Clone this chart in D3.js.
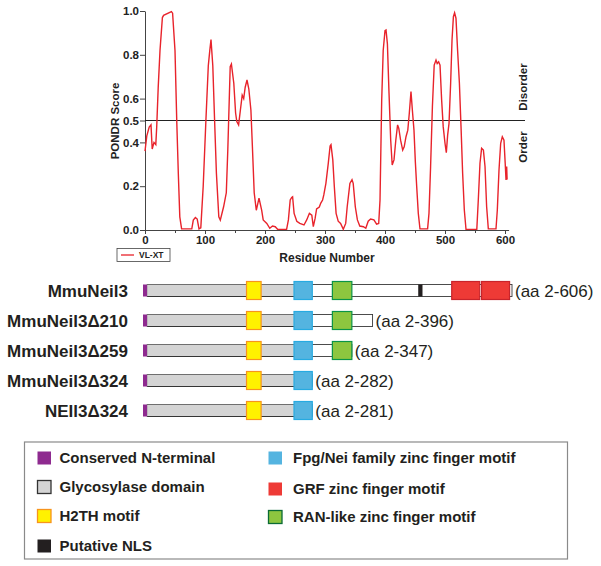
<!DOCTYPE html>
<html>
<head>
<meta charset="utf-8">
<script src="https://cdn.jsdelivr.net/npm/d3@7"></script>
<style>
  body { margin: 0; background: #fff; }
  svg { font-family: "Liberation Sans", Arial, sans-serif; }
</style>
</head>
<body>
<svg id="chart"></svg>
<script>
/* PONDR VL-XT curve */
const residues = [0, 3, 7, 10, 12, 15, 18, 19.5, 22, 25, 29, 31, 44, 46, 50, 53, 55.5, 58, 61, 78,
  80.5, 84, 87, 90, 93, 97, 101.5, 105.5, 108, 110, 113, 116, 119, 123, 125.5, 131, 135.5, 138, 142, 144,
  148, 151, 153, 156, 159, 162, 164.5, 167, 170, 173, 176.5, 179, 182, 185.5, 190, 194.5, 197, 203, 208, 212.5,
  217, 221, 236, 239, 242, 244.5, 246, 248.5, 253, 258, 265, 269.5, 274, 278, 280.5, 283.5, 286, 290.5, 293, 296,
  298, 301.5, 305.5, 308.5, 310, 313, 315.5, 318.5, 322, 326, 330.5, 334.5, 337, 341.5, 345, 347, 350.5, 354, 358, 364,
  368, 372, 376, 381.5, 386, 389.5, 391.7, 394.5, 397, 400, 401.7, 404, 406.7, 409.5, 412, 415, 418, 421, 423, 426,
  429.5, 432, 435, 438, 440.5, 443.3, 445.6, 448.3, 450.6, 452.8, 455.5, 458.3, 471, 473.3, 476, 479, 482, 485, 487, 489.4,
  491.7, 494.4, 497, 500, 502.2, 504.4, 506.7, 509.4, 511.7, 514, 516, 518.3, 521, 524, 526.7, 529.4, 532.2, 535, 553, 555.5,
  558.3, 561, 564, 566.7, 569.4, 572.2, 585, 587.2, 590, 592.8, 595.5, 598.3, 600.6, 601.7, 602.8, 603.5];
const scores = [0.36, 0.43, 0.47, 0.48, 0.37, 0.40, 0.39, 0.47, 0.65, 0.82, 0.97, 0.98, 0.997, 0.99, 0.82, 0.49, 0.26, 0.06, 0.005, 0.005,
  0.045, 0.057, 0.05, 0.005, 0.01, 0.2, 0.5, 0.75, 0.82, 0.87, 0.75, 0.5, 0.26, 0.06, 0.045, 0.106, 0.17, 0.365, 0.746, 0.758,
  0.67, 0.534, 0.495, 0.48, 0.548, 0.616, 0.60, 0.652, 0.685, 0.645, 0.548, 0.38, 0.17, 0.09, 0.146, 0.09, 0.046, 0.03, 0.008, 0.018,
  0.015, 0.003, 0.003, 0.046, 0.137, 0.149, 0.152, 0.076, 0.04, 0.03, 0.023, 0.046, 0.076, 0.068, 0.015, 0.053, 0.096, 0.105, 0.123, 0.137,
  0.16, 0.213, 0.305, 0.384, 0.39, 0.32, 0.2, 0.076, 0.04, 0.03, 0.003, 0.03, 0.106, 0.213, 0.23, 0.213, 0.106, 0.046, 0.018, 0.015,
  0.008, 0.04, 0.05, 0.046, 0.027, 0.03, 0.137, 0.594, 0.82, 0.91, 0.913, 0.85, 0.625, 0.41, 0.297, 0.32, 0.41, 0.48, 0.464, 0.41,
  0.365, 0.38, 0.426, 0.456, 0.533, 0.632, 0.548, 0.456, 0.31, 0.2, 0.076, 0.005, 0.005, 0.076, 0.29, 0.563, 0.753, 0.776, 0.76, 0.768,
  0.753, 0.594, 0.472, 0.396, 0.353, 0.433, 0.487, 0.67, 0.868, 0.974, 0.992, 0.967, 0.82, 0.67, 0.472, 0.259, 0.091, 0.003, 0.003, 0.137,
  0.305, 0.373, 0.365, 0.29, 0.106, 0.005, 0.005, 0.091, 0.274, 0.396, 0.426, 0.41, 0.29, 0.228, 0.29, 0.23];

const yTicks = [0, 0.2, 0.4, 0.5, 0.6, 0.8, 1.0];
const xTicks = [0, 100, 200, 300, 400, 500, 600];
const xMinorTicks = [50, 150, 250, 350, 450, 550];

/* domain diagram */
const constructs = ['MmuNeil3', 'MmuNeil3\u0394210', 'MmuNeil3\u0394259', 'MmuNeil3\u0394324', 'NEIl3\u0394324'];
const rangeLabels = ['(aa 2-606)', '(aa 2-396)', '(aa 2-347)', '(aa 2-282)', '(aa 2-281)'];
const constructEnds = [606, 377, 343, 278, 278]; // schematic length as drawn
const domainNames = ['nterm', 'glyco', 'h2th', 'fpg', 'ran', 'nls', 'grf1', 'grf2'];
const domainStarts = [0, 7, 170, 248, 311, 452, 507, 556];
const domainEnds = [7, 249, 194, 278, 343, 459, 553, 602];

const legendLeft = ['Conserved N-terminal', 'Glycosylase domain', 'H2TH motif', 'Putative NLS'];
const legendRight = ['Fpg/Nei family zinc finger motif', 'GRF zinc finger motif', 'RAN-like zinc finger motif'];

const style = {
  nterm: { fill: '#8e2a8f', stroke: 'none' },
  glyco: { fill: '#d4d4d4', stroke: 'none' },
  h2th: { fill: '#fff200', stroke: '#f7941d' },
  fpg: { fill: '#54b4e0', stroke: '#27aae1' },
  ran: { fill: '#8dc63f', stroke: '#0a9447' },
  nls: { fill: '#231f20', stroke: 'none' },
  grf1: { fill: '#ee3a36', stroke: '#c8242b' },
  grf2: { fill: '#ee3a36', stroke: '#c8242b' }
};
const boxKeys = ['h2th', 'fpg', 'ran', 'grf1', 'grf2'];

const svg = d3.select('#chart').attr('width', 601).attr('height', 566);
svg.append('rect').attr('width', 601).attr('height', 566).attr('fill', '#fff');

/* ---------- PONDR plot ---------- */
const x = d3.scaleLinear().domain([0, 606]).range([145, 508.6]);
const y = d3.scaleLinear().domain([0, 1]).range([230, 11]);

const yAxis = svg.append('g')
  .attr('transform', `translate(${x(0)},0)`)
  .call(d3.axisLeft(y).tickValues(yTicks).tickFormat(d3.format('.1f')).tickSize(5).tickPadding(1).tickSizeOuter(0));
yAxis.selectAll('text').attr('font-size', 11.5).attr('font-weight', 'bold').attr('fill', '#222');

const xAxis = svg.append('g')
  .attr('transform', `translate(0,${y(0)})`)
  .call(d3.axisBottom(x).tickValues(xTicks).tickFormat(d3.format('d')).tickSize(4).tickSizeOuter(0));
xAxis.selectAll('text').attr('font-size', 11.5).attr('font-weight', 'bold').attr('fill', '#222').attr('dy', '0.6em');
svg.append('g')
  .attr('transform', `translate(0,${y(0)})`)
  .call(d3.axisBottom(x).tickValues(xMinorTicks).tickFormat('').tickSize(3).tickSizeOuter(0))
  .select('.domain').remove();
svg.selectAll('.domain, .tick line').attr('stroke', '#444');

// order / disorder threshold
svg.append('line')
  .attr('x1', x(0)).attr('x2', 525)
  .attr('y1', y(0.5)).attr('y2', y(0.5))
  .attr('stroke', '#222').attr('stroke-width', 1);

const line = d3.line().x((d, i) => x(residues[i])).y(d => y(d));
svg.append('path')
  .datum(scores)
  .attr('d', line)
  .attr('fill', 'none')
  .attr('stroke', '#e8232b')
  .attr('stroke-width', 1.4);

// rotated titles: baseline sits on the right-hand side of the glyphs
svg.append('text')
  .attr('transform', 'translate(119,121) rotate(-90)')
  .attr('text-anchor', 'middle')
  .attr('font-size', 11.5).attr('font-weight', 'bold').attr('fill', '#222')
  .text('PONDR Score');

svg.append('text')
  .attr('x', 327).attr('y', 262)
  .attr('text-anchor', 'middle')
  .attr('font-size', 12).attr('font-weight', 'bold').attr('fill', '#222')
  .text('Residue Number');

[['Disorder', 87], ['Order', 147]].forEach(([t, cy]) => {
  svg.append('text')
    .attr('transform', `translate(527,${cy}) rotate(-90)`)
    .attr('text-anchor', 'middle')
    .attr('font-size', 11.5).attr('font-weight', 'bold').attr('fill', '#222')
    .text(t);
});

// series key
svg.append('rect')
  .attr('x', 117).attr('y', 248.5).attr('width', 53).attr('height', 13)
  .attr('fill', '#fff').attr('stroke', '#444').attr('stroke-width', 0.8);
svg.append('line')
  .attr('x1', 121).attr('x2', 134).attr('y1', 255).attr('y2', 255)
  .attr('stroke', '#e8232b').attr('stroke-width', 1.3);
svg.append('text')
  .attr('x', 139).attr('y', 258.3)
  .attr('font-size', 8.5).attr('font-weight', 'bold').attr('fill', '#222')
  .text('VL-XT');

/* ---------- domain diagram ---------- */
const dx = d3.scaleLinear().domain([0, 606]).range([143, 512]);
const rowY = d3.scalePoint().domain(constructs).range([290.5, 410.5]);
const barH = 12, boxH = 18;

constructs.forEach((name, r) => {
  const cy = rowY(name);
  const end = constructEnds[r];
  const g = svg.append('g');

  g.append('text')
    .attr('x', 128).attr('y', cy + 6)
    .attr('text-anchor', 'end')
    .attr('font-size', 17).attr('font-weight', 'bold').attr('fill', '#231f20')
    .text(name);

  // full-length outline
  g.append('rect')
    .attr('x', dx(domainEnds[0])).attr('y', cy - barH / 2)
    .attr('width', dx(end) - dx(domainEnds[0])).attr('height', barH)
    .attr('fill', '#fff').attr('stroke', '#3a3a3a').attr('stroke-width', 0.9);

  domainNames.forEach((key, i) => {
    if (domainEnds[i] > end + 1) return;
    const isBox = boxKeys.includes(key);
    const h = isBox ? boxH : barH;
    const rect = g.append('rect')
      .attr('x', dx(domainStarts[i])).attr('y', cy - h / 2)
      .attr('width', dx(domainEnds[i]) - dx(domainStarts[i])).attr('height', h)
      .attr('fill', style[key].fill);
    if (style[key].stroke !== 'none') rect.attr('stroke', style[key].stroke).attr('stroke-width', 1.2);
    if (key === 'glyco') {
      g.append('line').attr('x1', dx(domainStarts[i])).attr('x2', dx(domainEnds[i]))
        .attr('y1', cy - barH / 2).attr('y2', cy - barH / 2).attr('stroke', '#6b6b6b').attr('stroke-width', 0.9);
      g.append('line').attr('x1', dx(domainStarts[i])).attr('x2', dx(domainEnds[i]))
        .attr('y1', cy + barH / 2).attr('y2', cy + barH / 2).attr('stroke', '#2a2a2a').attr('stroke-width', 0.9);
    }
  });

  g.append('text')
    .attr('x', dx(end) + 3).attr('y', cy + 6)
    .attr('font-size', 17).attr('fill', '#231f20')
    .text(rangeLabels[r]);
});

/* ---------- legend ---------- */
svg.append('rect')
  .attr('x', 24.5).attr('y', 442).attr('width', 543).attr('height', 117)
  .attr('fill', '#fff').attr('stroke', '#8a8a8a').attr('stroke-width', 1.2);

const leftKeys = ['nterm', 'glyco', 'h2th', 'nls'];
const rightKeys = ['fpg', 'grf1', 'ran'];
const leftRows = [458, 487, 516, 546];
const rightRows = [458, 489, 517];
const legendStroke = { nterm: 'none', glyco: '#333', h2th: '#f7941d', nls: 'none', fpg: 'none', grf1: 'none', ran: '#0a6b35' };

function legendItem(key, label, sx, tx, cy) {
  const rect = svg.append('rect')
    .attr('x', sx).attr('y', cy - 6.5).attr('width', 13.5).attr('height', 13)
    .attr('fill', style[key].fill);
  if (legendStroke[key] !== 'none') rect.attr('stroke', legendStroke[key]).attr('stroke-width', 1.3);
  svg.append('text')
    .attr('x', tx).attr('y', cy + 5.3)
    .attr('font-size', 15).attr('font-weight', 'bold').attr('fill', '#231f20')
    .text(label);
}
legendLeft.forEach((t, i) => legendItem(leftKeys[i], t, 37.5, 59.5, leftRows[i]));
legendRight.forEach((t, i) => legendItem(rightKeys[i], t, 268.5, 293, rightRows[i]));
</script>
</body>
</html>
